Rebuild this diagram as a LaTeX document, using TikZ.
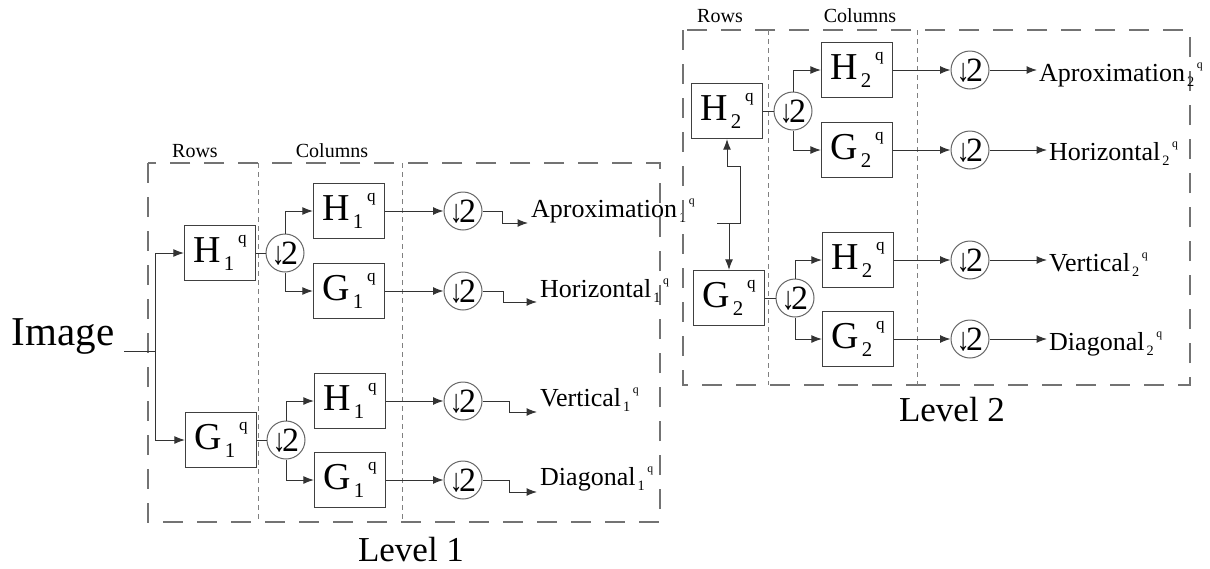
\documentclass[tikz,border=0pt]{standalone}
\usepackage{fontspec}
\setmainfont{Liberation Serif}
\usetikzlibrary{arrows.meta,calc}
\newcommand{\sq}[2]{#1\kern.08em\raisebox{-.22em}{\scalebox{.55}{#2}}\kern.1em\raisebox{.5em}{\scalebox{.45}{q}}}
\newcommand{\dtwo}{\smash{\makebox[0pt]{\raisebox{-.34em}{\scalebox{.75}[.95]{↓}\kern-.1em 2}}}}
\begin{document}
\begin{tikzpicture}[x=1pt,y=-1pt,
  box/.style={draw=black!75, line width=1.3pt, minimum width=71pt, minimum height=55pt, inner sep=0pt, font=\fontsize{38}{40}\selectfont},
  ds/.style={draw=black!60, line width=1pt, circle, minimum size=38pt, inner sep=0pt, font=\fontsize{34}{36}\selectfont},
  wire/.style={draw=black!80, line width=1pt},
  arr/.style={wire, -{Latex[length=10.5pt,width=8pt]}},
  outer/.style={draw=black!55, line width=2.2pt, dash pattern=on 20pt off 14pt},
  divider/.style={draw=black!50, line width=1pt, dash pattern=on 5pt off 4pt},
  outlbl/.style={anchor=base west, inner sep=0pt, font=\fontsize{26}{28}\selectfont},
  hdr/.style={font=\fontsize{20}{22}\selectfont},
  lvl/.style={font=\fontsize{35}{37}\selectfont}
]
\path[fill=white, use as bounding box] (0,0) rectangle (1210,568);

% ---------- Level 1 frames ----------
\draw[outer] (148,163) rectangle (660,522);
\draw[divider] (258,163) -- (258,522);
\draw[divider] (402,163) -- (402,522);
\node[hdr] (rows1) at (195,151) {Rows};
\node[hdr] (cols1) at (332,151) {Columns};
\node[lvl] (lev1) at (411,550) {Level 1};

% ---------- Input ----------
\node[font=\fontsize{41}{43}\selectfont, anchor=base, inner sep=0pt] (img) at (63,345) {Image};
\coordinate (split) at (155,351);

% ---------- Level 1 rows ----------
\node[box] (H1r) at (220,253) {\sq{H}{1}};
\node[box] (G1r) at (221,440) {\sq{G}{1}};
\node[ds] (d1a) at (285,253) {\dtwo};
\node[ds] (d1b) at (286,440) {\dtwo};

\draw[wire] ([xshift=10pt]img.east |- split) -- (split);
\draw[arr] (split) |- (H1r.west);
\draw[arr] (split) |- (G1r.west);
\draw[wire] (H1r.east) -- (d1a.west);
\draw[wire] (G1r.east) -- (d1b.west);

% ---------- Level 1 columns ----------
\node[box] (H1a) at (349,211) {\sq{H}{1}};
\node[box] (G1a) at (349,291) {\sq{G}{1}};
\node[box] (H1b) at (350,401) {\sq{H}{1}};
\node[box] (G1b) at (350,480) {\sq{G}{1}};
\draw[arr] (d1a.north) |- (H1a.west);
\draw[arr] (d1a.south) |- (G1a.west);
\draw[arr] (d1b.north) |- (H1b.west);
\draw[arr] (d1b.south) |- (G1b.west);

% ---------- Level 1 outputs ----------
\node[ds] (o1) at (463,211) {\dtwo};
\node[ds] (o2) at (463,291) {\dtwo};
\node[ds] (o3) at (463,401) {\dtwo};
\node[ds] (o4) at (463,480) {\dtwo};
\draw[arr] (H1a.east) -- (o1.west);
\draw[arr] (G1a.east) -- (o2.west);
\draw[arr] (H1b.east) -- (o3.west);
\draw[arr] (G1b.east) -- (o4.west);
\coordinate (a1) at (528,223);
\coordinate (a2) at (537,302);
\coordinate (a3) at (537,412);
\coordinate (a4) at (537,492);
\draw[arr] (o1.east) -- ++(20,0) |- (a1);
\draw[arr] (o2.east) -- ++(21,0) |- (a2);
\draw[arr] (o3.east) -- ++(27,0) |- (a3);
\draw[arr] (o4.east) -- ++(27,0) |- (a4);
\node[outlbl] (t1) at (531,217) {Aproximation\sq{}{1}};
\node[outlbl] (t2) at (540,297) {Horizontal\sq{}{1}};
\node[outlbl] (t3) at (540,406) {Vertical\sq{}{1}};
\node[outlbl] (t4) at (540,485) {Diagonal\sq{}{1}};

% ---------- Level 2 frames ----------
\draw[outer] (683,30) rectangle (1190,385);
\draw[divider] (768,30) -- (768,385);
\draw[divider] (917,30) -- (917,385);
\node[hdr] (rows2) at (720,16) {Rows};
\node[hdr] (cols2) at (860,16) {Columns};
\node[lvl] (lev2) at (952,410) {Level 2};

% ---------- Level 2 rows ----------
\node[box] (H2r) at (727,111) {\sq{H}{2}};
\node[box] (G2r) at (729,298) {\sq{G}{2}};
\node[ds] (d2a) at (793,111) {\dtwo};
\node[ds] (d2b) at (795,298) {\dtwo};
\draw[wire] (H2r.east) -- (d2a.west);
\draw[wire] (G2r.east) -- (d2b.west);

\coordinate (stub) at (717,223);
\coordinate (j2) at (740,223);
\coordinate (j1) at (740,166);
\draw[arr] (stub) -- (j2) -- (j1) -| (H2r.south);
\draw[arr] (G2r.north |- j2) -- (G2r.north);

% ---------- Level 2 columns ----------
\node[box] (H2a) at (857,70) {\sq{H}{2}};
\node[box] (G2a) at (857,150) {\sq{G}{2}};
\node[box] (H2b) at (858,260) {\sq{H}{2}};
\node[box] (G2b) at (858,339) {\sq{G}{2}};
\draw[arr] (d2a.north) |- (H2a.west);
\draw[arr] (d2a.south) |- (G2a.west);
\draw[arr] (d2b.north) |- (H2b.west);
\draw[arr] (d2b.south) |- (G2b.west);

% ---------- Level 2 outputs ----------
\node[ds] (o5) at (970,70) {\dtwo};
\node[ds] (o6) at (970,150) {\dtwo};
\node[ds] (o7) at (970,260) {\dtwo};
\node[ds] (o8) at (970,339) {\dtwo};
\draw[arr] (H2a.east) -- (o5.west);
\draw[arr] (G2a.east) -- (o6.west);
\draw[arr] (H2b.east) -- (o7.west);
\draw[arr] (G2b.east) -- (o8.west);
\coordinate (a5) at (1037,70);
\coordinate (a6) at (1047,150);
\coordinate (a7) at (1047,260);
\coordinate (a8) at (1047,339);
\draw[arr] (o5.east) -- (a5);
\draw[arr] (o6.east) -- (a6);
\draw[arr] (o7.east) -- (a7);
\draw[arr] (o8.east) -- (a8);
\node[outlbl] (t5) at (1039,81) {Aproximation\sq{}{2}};
\node[outlbl] (t6) at (1049,160) {Horizontal\sq{}{2}};
\node[outlbl] (t7) at (1049,271) {Vertical\sq{}{2}};
\node[outlbl] (t8) at (1049,350) {Diagonal\sq{}{2}};
\end{tikzpicture}
\end{document}
